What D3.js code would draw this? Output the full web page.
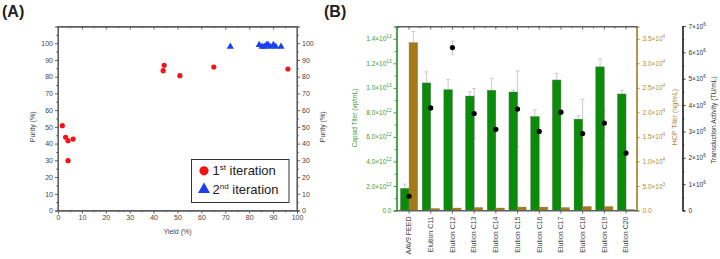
<!DOCTYPE html>
<html><head><meta charset="utf-8">
<script src="https://cdn.jsdelivr.net/npm/d3@7"></script>
<style>body{margin:0;background:#fff} svg{display:block;font-family:"Liberation Sans",Arial,sans-serif}</style>
</head><body><svg id="c" width="720" height="259"></svg>
<script>
// ---------- Panel A data ----------
const iter1Yield  = [1.8, 3.2, 4.2, 4.2, 6.3, 44.0, 44.4, 51.0, 65.2, 96.2];
const iter1Purity = [50.7, 43.8, 41.7, 29.8, 42.7, 83.6, 86.8, 80.6, 85.8, 84.6];
const iter2Yield  = [72.1, 84.2, 85.4, 86.3, 87.3, 87.9, 88.7, 90.1, 91.1, 93.3];
const iter2Purity = [98, 99, 98, 98, 99, 99, 98, 99, 98, 98];
const purityTicks = [0,10,20,30,40,50,60,70,80,90,100];
const yieldTicks  = [0,10,20,30,40,50,60,70,80,90,100];
const legendLabels = [["1","st"," iteration"],["2","nd"," iteration"]];

// ---------- Panel B data ----------
const categories = ["AAV9 FEED","Elution C11","Elution C12","Elution C13","Elution C14","Elution C15",
                    "Elution C16","Elution C17","Elution C18","Elution C19","Elution C20"];
const capsidTiter = [1.8e12, 1.04e13, 9.85e12, 9.33e12, 9.8e12, 9.66e12, 7.66e12, 1.064e13, 7.45e12, 1.171e13, 9.5e12];
const capsidErr   = [0.35e12, 0.9e12, 0.82e12, 0.35e12, 0.98e12, 0.15e12, 0.55e12, 0.52e12, 0.27e12, 0.65e12, 0.3e12];
const hcpTiter    = [3.42e4, 400, 500, 600, 500, 700, 700, 600, 800, 800, 200];
const hcpErr      = [2.3e3, 0, 0, 0, 0, 0, 0, 0, 0, 0, 0];
const transduction = [0.54e6, 3.89e6, 6.18e6, 3.68e6, 3.08e6, 3.85e6, 3.0e6, 3.73e6, 2.92e6, 3.32e6, 2.18e6];
const transErr     = [0, 0, 0.25e6, 0.95e6, 0, 1.45e6, 0, 0, 1.3e6, 0.5e6, 0];
const capsidTicks = [0, 2e12, 4e12, 6e12, 8e12, 1e13, 1.2e13, 1.4e13];
const hcpTicks    = [0, 5e3, 1e4, 1.5e4, 2e4, 2.5e4, 3e4, 3.5e4];
const transTicks  = [0, 1e6, 2e6, 3e6, 4e6, 5e6, 6e6, 7e6];

const svg = d3.select("#c");
const GRAY = "#5e5e5e", TXT = "#444";
const GREEN = "#0a8c0a", BROWN = "#a47a17", GREENTXT = "#3a9a3a", BROWNTXT = "#a88a3c";

function styleAxis(g, color, txtColor, fs) {
  g.select(".domain").attr("stroke", color).attr("stroke-width", 1);
  g.selectAll(".tick line").attr("stroke", color).attr("stroke-width", 1);
  g.selectAll(".tick text").attr("fill", txtColor).attr("font-size", fs);
}
function frameLine(parent, x1, y1, x2, y2, color) {
  parent.append("line").attr("x1", x1).attr("y1", y1).attr("x2", x2).attr("y2", y2)
    .attr("stroke", color).attr("stroke-width", 1.2);
}

// ================= Panel A =================
const ax = d3.scaleLinear().domain([0, 100]).range([58, 297]);
const ay = d3.scaleLinear().domain([0, 110]).range([210.5, 26.5]);
const A = svg.append("g");
const aMinorX = d3.range(5, 100, 10), aMinorY = d3.range(5, 110, 10);

function aAxes(gen, tr, vals, size, labels) {
  const g = A.append("g").attr("transform", tr)
    .call(gen.tickValues(vals).tickSize(size).tickPadding(2).tickFormat(labels ? d3.format("d") : ""));
  styleAxis(g, GRAY, TXT, 7);
  return g;
}
aAxes(d3.axisLeft(ay), `translate(${ax(0)},0)`, purityTicks, 3, true);
aAxes(d3.axisLeft(ay), `translate(${ax(0)},0)`, aMinorY, 1.8, false);
aAxes(d3.axisRight(ay), `translate(${ax(100)},0)`, purityTicks, 3, true);
aAxes(d3.axisRight(ay), `translate(${ax(100)},0)`, aMinorY, 1.8, false);
aAxes(d3.axisBottom(ax), `translate(0,${ay(0)})`, yieldTicks, 3, true);
aAxes(d3.axisBottom(ax), `translate(0,${ay(0)})`, aMinorX, 1.8, false);
aAxes(d3.axisBottom(ax), `translate(0,${ay(110)})`, yieldTicks, 3, false);
aAxes(d3.axisBottom(ax), `translate(0,${ay(110)})`, aMinorX, 1.8, false);
// explicit frame
frameLine(A, ax(0), ay(110), ax(100), ay(110), GRAY);
frameLine(A, ax(100), ay(110), ax(100), ay(0), GRAY);
frameLine(A, ax(0), ay(110), ax(0), ay(0), GRAY);
frameLine(A, ax(0), ay(0), ax(100), ay(0), GRAY);

A.append("text").attr("x", (ax(0)+ax(100))/2).attr("y", 234).attr("text-anchor","middle")
  .attr("font-size", 7).attr("fill", TXT).text("Yield (%)");
A.append("text").attr("transform", `translate(35,${ay(50)}) rotate(-90)`).attr("text-anchor","middle")
  .attr("font-size", 7).attr("fill", TXT).text("Purity (%)");
A.append("text").attr("transform", `translate(325,${ay(50)}) rotate(-90)`).attr("text-anchor","middle")
  .attr("font-size", 7).attr("fill", TXT).text("Purity (%)");

// points
A.append("g").selectAll("circle").data(iter1Yield).join("circle")
  .attr("cx", d => ax(d)).attr("cy", (d,i) => ay(iter1Purity[i])).attr("r", 2.6).attr("fill", "#f01414");
const tri = d3.symbol().type(d3.symbolTriangle).size(22);
A.append("g").selectAll("path").data(iter2Yield).join("path")
  .attr("transform", (d,i) => `translate(${ax(d)},${ay(iter2Purity[i])})`).attr("d", tri).attr("fill", "#1a40f0");

// legend
const L = A.append("g");
L.append("rect").attr("x", 191.5).attr("y", 159.5).attr("width", 97.5).attr("height", 43)
  .attr("fill", "#fff").attr("stroke", "#333").attr("stroke-width", 1);
L.append("circle").attr("cx", 204).attr("cy", 170.8).attr("r", 4.6).attr("fill", "#f01414");
L.append("path").attr("transform", "translate(204,189.5)").attr("d", d3.symbol().type(d3.symbolTriangle).size(62)()).attr("fill", "#1a40f0");
legendLabels.forEach((lab, i) => {
  const t = L.append("text").attr("x", 212.5).attr("y", 175.3 + i*18.6).attr("font-size", 13).attr("fill", "#222");
  t.append("tspan").text(lab[0]);
  t.append("tspan").attr("font-size", 8).attr("dy", -5).text(lab[1]);
  t.append("tspan").attr("dy", 5).text(lab[2]);
});

svg.append("text").attr("x", 2).attr("y", 16.5).attr("font-size", 16).attr("font-weight", "bold").attr("fill","#222").text("(A)");
svg.append("text").attr("x", 324).attr("y", 16.5).attr("font-size", 16).attr("font-weight", "bold").attr("fill","#222").text("(B)");

// ================= Panel B =================
const xL = 396.5, xR = 636.5, yT = 26.5, yB = 210.5;
const bx = d3.scaleBand().domain(categories).range([398.2, 636.9]).padding(0);
const by = d3.scaleLinear().domain([0, 1.5e13]).range([yB, yT]);
const hy = d3.scaleLinear().domain([0, 3.75e4]).range([yB, yT]);
const ty = d3.scaleLinear().domain([0, 7e6]).range([yB, 26]);
const B = svg.append("g");
const cx = c => bx(c) + bx.bandwidth()/2;
const BW = 8.6;

function errBar(gr, x, y0, y1, color) {
  gr.append("line").attr("x1", x).attr("x2", x).attr("y1", y0).attr("y2", y1).attr("stroke", color).attr("stroke-width", 0.7);
  gr.append("line").attr("x1", x-2).attr("x2", x+2).attr("y1", y1).attr("y2", y1).attr("stroke", color).attr("stroke-width", 0.7);
  gr.append("line").attr("x1", x-2).attr("x2", x+2).attr("y1", y0).attr("y2", y0).attr("stroke", color).attr("stroke-width", 0.7);
}
const EB = B.append("g");
categories.forEach((c, i) => {
  const gx = cx(c) - BW/2;
  errBar(EB, gx, by(capsidTiter[i] - capsidErr[i]), by(capsidTiter[i] + capsidErr[i]), "#b5b5b5");
  if (hcpErr[i] > 0) errBar(EB, cx(c) + BW/2, hy(hcpTiter[i] - hcpErr[i]), hy(hcpTiter[i] + hcpErr[i]), "#b5b5b5");
  if (transErr[i] > 0) errBar(EB, cx(c), ty(transduction[i] - transErr[i]), ty(transduction[i] + transErr[i]), "#b5b5b5");
});

B.append("g").selectAll("rect").data(categories).join("rect")
  .attr("x", d => cx(d) - BW).attr("width", BW)
  .attr("y", (d,i) => by(capsidTiter[i])).attr("height", (d,i) => by(0) - by(capsidTiter[i]))
  .attr("fill", GREEN).attr("stroke", "#5a7a5a").attr("stroke-width", 0.4);
B.append("g").selectAll("rect").data(categories).join("rect")
  .attr("x", d => cx(d)).attr("width", BW)
  .attr("y", (d,i) => hy(hcpTiter[i])).attr("height", (d,i) => hy(0) - hy(hcpTiter[i]))
  .attr("fill", BROWN).attr("stroke", "#8a7a5a").attr("stroke-width", 0.4);
B.append("g").selectAll("circle").data(categories).join("circle")
  .attr("cx", d => cx(d)).attr("cy", (d,i) => ty(transduction[i])).attr("r", 2.6).attr("fill", "#000");

function supLabels(g, fmt, fs) {
  g.selectAll(".tick text").each(function(d) {
    const t = d3.select(this); t.text("");
    const [m, e] = fmt(d);
    t.append("tspan").text(m);
    if (e) t.append("tspan").attr("font-size", fs*0.72).attr("dy", -3).text(e);
  });
}
const fmtSci1 = v => {
  if (v === 0) return ["0.0", null];
  const e = Math.floor(Math.log10(v) + 1e-9);
  return [(v/10**e).toFixed(1) + "×10", String(e)];
};
const fmtSci0 = v => {
  if (v === 0) return ["0", null];
  const e = Math.floor(Math.log10(v) + 1e-9);
  return [Math.round(v/10**e) + "×10", String(e)];
};
const mid = arr => arr.slice(0, -1).map((v, i) => (v + arr[i+1]) / 2);

// left capsid axis
let g = B.append("g").attr("transform", `translate(${xL},0)`)
  .call(d3.axisLeft(by).tickValues(capsidTicks).tickSize(3).tickPadding(2));
styleAxis(g, GREENTXT, GREENTXT, 6.5); supLabels(g, fmtSci1, 6.5);
g = B.append("g").attr("transform", `translate(${xL},0)`)
  .call(d3.axisLeft(by).tickValues(mid(capsidTicks)).tickSize(1.8).tickFormat(""));
styleAxis(g, GREENTXT, GREENTXT, 6.5);
frameLine(B, xL + 0.5, yT, xL + 0.5, yB, GREENTXT);

// HCP axis
g = B.append("g").attr("transform", `translate(${xR},0)`)
  .call(d3.axisRight(hy).tickValues(hcpTicks).tickSize(3).tickPadding(3));
styleAxis(g, BROWNTXT, BROWNTXT, 6.5); supLabels(g, fmtSci1, 6.5);
g = B.append("g").attr("transform", `translate(${xR},0)`)
  .call(d3.axisRight(hy).tickValues(mid(hcpTicks)).tickSize(1.8).tickFormat(""));
styleAxis(g, BROWNTXT, BROWNTXT, 6.5);
frameLine(B, xR + 0.5, yT, xR + 0.5, yB, BROWNTXT);

// Transduction axis
g = B.append("g").attr("transform", `translate(682.5,0)`)
  .call(d3.axisRight(ty).tickValues(transTicks).tickSize(3).tickPadding(3));
styleAxis(g, "#333", "#333", 6.5); supLabels(g, fmtSci0, 6.5);
g = B.append("g").attr("transform", `translate(682.5,0)`)
  .call(d3.axisRight(ty).tickValues(mid(transTicks)).tickSize(1.8).tickFormat(""));
styleAxis(g, "#333", "#333", 6.5);
frameLine(B, 683, 26, 683, yB, "#333");

// bottom & top category axes
const bounds = categories.map(c => bx(c)).concat([bx.range()[1]]);
g = B.append("g").attr("transform", `translate(0,${yB})`)
  .call(d3.axisBottom(bx).tickSize(3).tickPadding(3));
styleAxis(g, GRAY, TXT, 7);
g.select(".domain").attr("d", `M${xL},0H${xR}`);
g.selectAll(".tick text").attr("transform", "rotate(-90)").attr("text-anchor", "end")
  .attr("dy", "0.32em").attr("x", -6).attr("y", 0);
g = B.append("g").attr("transform", `translate(0,${yT})`)
  .call(d3.axisBottom(bx).tickSize(3).tickFormat(""));
styleAxis(g, GRAY, TXT, 7);
g.select(".domain").attr("d", `M${xL},0H${xR}`);
B.append("g").selectAll("line").data(bounds).join("line")
  .attr("x1", d => d).attr("x2", d => d).attr("y1", yT).attr("y2", yT + 1.8)
  .attr("stroke", GRAY).attr("stroke-width", 1);
frameLine(B, xL, yT + 0.5, xR + 1, yT + 0.5, GRAY);
frameLine(B, xL, yB + 0.5, xR + 1, yB + 0.5, GRAY);

// titles
B.append("text").attr("transform", `translate(357,118) rotate(-90)`).attr("text-anchor","middle")
  .attr("font-size", 6.5).attr("fill", GREENTXT).text("Capsid Titer (vp/mL)");
B.append("text").attr("transform", `translate(677,117) rotate(-90)`).attr("text-anchor","middle")
  .attr("font-size", 7).attr("fill", BROWNTXT).text("HCP Titer (ng/mL)");
B.append("text").attr("transform", `translate(716,120) rotate(-90)`).attr("text-anchor","middle")
  .attr("font-size", 6.7).attr("fill", "#333").text("Transduction Activity (TU/mL)");
</script></body></html>
